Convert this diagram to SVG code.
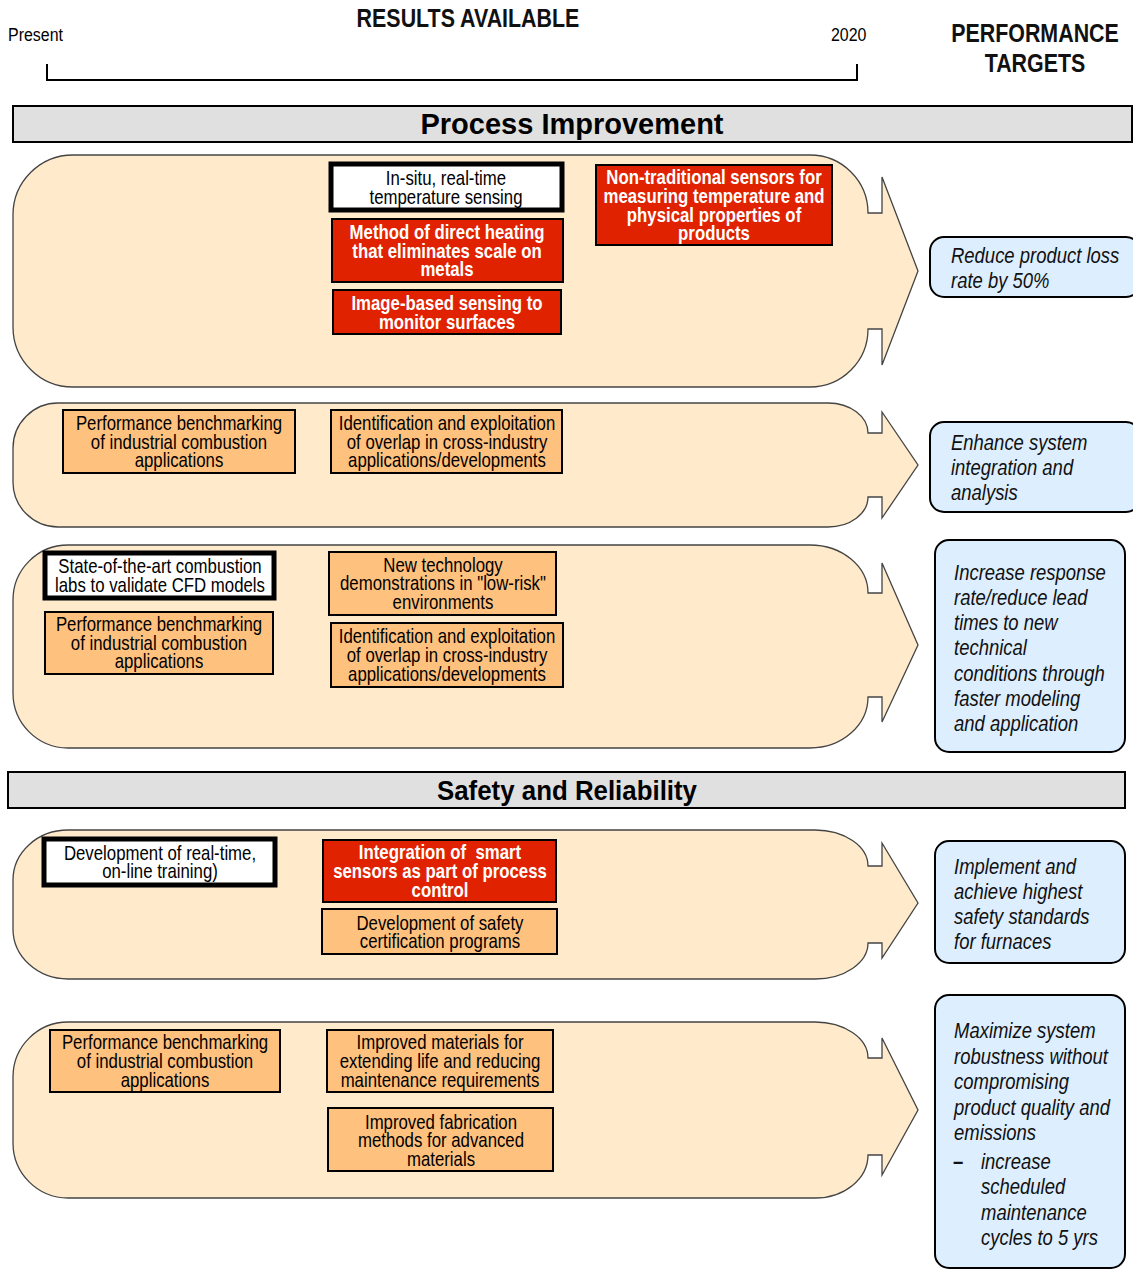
<svg xmlns="http://www.w3.org/2000/svg" width="1133" height="1270" viewBox="0 0 1133 1270">
<style>
.n{font-family:"Liberation Sans",Arial,sans-serif;font-size:20px;fill:#000;text-anchor:middle}
.nw{font-family:"Liberation Sans",Arial,sans-serif;font-size:20px;font-weight:bold;fill:#fff;text-anchor:middle}
.it{font-family:"Liberation Sans",Arial,sans-serif;font-size:22px;font-style:italic;fill:#111}
.hd{font-family:"Liberation Sans",Arial,sans-serif;font-size:25.5px;font-weight:bold;fill:#111;text-anchor:middle}
.sm{font-family:"Liberation Sans",Arial,sans-serif;font-size:19px;fill:#000}
.ttl{font-family:"Liberation Sans",Arial,sans-serif;font-size:29px;font-weight:bold;fill:#000;text-anchor:middle}
.lane{fill:#ffebcc;stroke:#444;stroke-width:1.3}
.bar{fill:#e0e0e0;stroke:#000;stroke-width:2}
.red{fill:#e12200;stroke:#000;stroke-width:2}
.org{fill:#ffc17e;stroke:#000;stroke-width:2}
.wht{fill:#fff;stroke:#000;stroke-width:5}
.blue{fill:#ddeeff;stroke:#000;stroke-width:2}
</style>

<g id="header">
  <text class="sm" transform="translate(8,41) scale(0.84,1)">Present</text>
  <text class="hd" transform="translate(468,27) scale(0.84,1)">RESULTS AVAILABLE</text>
  <text class="sm" transform="translate(831,41) scale(0.84,1)">2020</text>
  <text class="hd" transform="translate(1035,42) scale(0.84,1)">PERFORMANCE</text>
  <text class="hd" transform="translate(1035,72) scale(0.84,1)">TARGETS</text>
</g>

<g id="connectors">
  <path id="timeline" d="M47,64 V80 H857 V64" fill="none" stroke="#000" stroke-width="2"/>
</g>

<g id="bar-process">
  <rect class="bar" x="13" y="106" width="1119" height="36"/>
  <text class="ttl" x="572" y="134">Process Improvement</text>
</g>
<g id="bar-safety">
  <rect class="bar" x="8" y="772" width="1117" height="36"/>
  <text class="ttl" x="567" y="800" style="font-size:27px" textLength="260" lengthAdjust="spacingAndGlyphs">Safety and Reliability</text>
</g>

<g id="lanes">
  <path id="lane1" class="lane" d="M73,155 H810 A58,58 0 0 1 868,213 H882 V177 L918,271 L882,365 V329 H868 A58,58 0 0 1 810,387 H73 A60,60 0 0 1 13,327 V215 A60,60 0 0 1 73,155 Z"/>
  <path id="lane2" class="lane" d="M58,403 H828 A40,30 0 0 1 868,433 H882 V412 L918,465 L882,518 V497 H868 A40,30 0 0 1 828,527 H58 A45,45 0 0 1 13,482 V448 A45,45 0 0 1 58,403 Z"/>
  <path id="lane3" class="lane" d="M68,545 H810 A58,48 0 0 1 868,593 H882 V563 L918,645 L882,722 V697 H868 A58,51 0 0 1 810,748 H68 A55,55 0 0 1 13,693 V600 A55,55 0 0 1 68,545 Z"/>
  <path id="lane4" class="lane" d="M68,830 H815 A53,36 0 0 1 868,866 H882 V843 L918,903 L882,958 V943 H868 A53,36 0 0 1 815,979 H68 A55,50 0 0 1 13,929 V880 A55,50 0 0 1 68,830 Z"/>
  <path id="lane5" class="lane" d="M68,1022 H815 A53,36 0 0 1 868,1058 H882 V1038 L918,1110 L882,1175 V1155 H868 A53,43 0 0 1 815,1198 H68 A55,55 0 0 1 13,1143 V1077 A55,55 0 0 1 68,1022 Z"/>
</g>

<!-- Lane 1 -->
<g id="n-insitu">
  <rect class="wht" x="331" y="164" width="231" height="46"/>
  <text class="n" transform="translate(446,185) scale(0.84,1)">In-situ, real-time</text>
  <text class="n" transform="translate(446,204) scale(0.84,1)">temperature sensing</text>
</g>
<g id="n-direct-heating">
  <rect class="red" x="332" y="219" width="231" height="63"/>
  <text class="nw" transform="translate(447,239) scale(0.84,1)">Method of direct heating</text>
  <text class="nw" transform="translate(447,258) scale(0.84,1)">that eliminates scale on</text>
  <text class="nw" transform="translate(447,276) scale(0.84,1)">metals</text>
</g>
<g id="n-image-sensing">
  <rect class="red" x="333" y="290" width="228" height="44"/>
  <text class="nw" transform="translate(447,310) scale(0.84,1)">Image-based sensing to</text>
  <text class="nw" transform="translate(447,329) scale(0.84,1)">monitor surfaces</text>
</g>
<g id="n-nontraditional">
  <rect class="red" x="596" y="165" width="236" height="80"/>
  <text class="nw" transform="translate(714,184) scale(0.84,1)">Non-traditional sensors for</text>
  <text class="nw" transform="translate(714,203) scale(0.84,1)">measuring temperature and</text>
  <text class="nw" transform="translate(714,222) scale(0.84,1)">physical properties of</text>
  <text class="nw" transform="translate(714,240) scale(0.84,1)">products</text>
</g>

<!-- Lane 2 -->
<g id="n-bench-1">
  <rect class="org" x="63" y="410" width="232" height="63"/>
  <text class="n" transform="translate(179,430) scale(0.84,1)">Performance benchmarking</text>
  <text class="n" transform="translate(179,449) scale(0.84,1)">of industrial combustion</text>
  <text class="n" transform="translate(179,467) scale(0.84,1)">applications</text>
</g>
<g id="n-overlap-1">
  <rect class="org" x="331" y="410" width="231" height="63"/>
  <text class="n" transform="translate(447,430) scale(0.84,1)">Identification and exploitation</text>
  <text class="n" transform="translate(447,449) scale(0.84,1)">of overlap in cross-industry</text>
  <text class="n" transform="translate(447,467) scale(0.84,1)">applications/developments</text>
</g>

<!-- Lane 3 -->
<g id="n-labs">
  <rect class="wht" x="45" y="553" width="229" height="45"/>
  <text class="n" transform="translate(160,573) scale(0.84,1)">State-of-the-art combustion</text>
  <text class="n" transform="translate(160,592) scale(0.84,1)">labs to validate CFD models</text>
</g>
<g id="n-bench-2">
  <rect class="org" x="45" y="612" width="228" height="62"/>
  <text class="n" transform="translate(159,631) scale(0.84,1)">Performance benchmarking</text>
  <text class="n" transform="translate(159,650) scale(0.84,1)">of industrial combustion</text>
  <text class="n" transform="translate(159,668) scale(0.84,1)">applications</text>
</g>
<g id="n-newtech">
  <rect class="org" x="329" y="552" width="227" height="63"/>
  <text class="n" transform="translate(443,572) scale(0.84,1)">New technology</text>
  <text class="n" transform="translate(443,590) scale(0.84,1)">demonstrations in "low-risk"</text>
  <text class="n" transform="translate(443,609) scale(0.84,1)">environments</text>
</g>
<g id="n-overlap-2">
  <rect class="org" x="331" y="623" width="232" height="64"/>
  <text class="n" transform="translate(447,643) scale(0.84,1)">Identification and exploitation</text>
  <text class="n" transform="translate(447,662) scale(0.84,1)">of overlap in cross-industry</text>
  <text class="n" transform="translate(447,681) scale(0.84,1)">applications/developments</text>
</g>

<!-- Lane 4 -->
<g id="n-training">
  <rect class="wht" x="44" y="839" width="231" height="46"/>
  <text class="n" transform="translate(160,860) scale(0.84,1)">Development of real-time,</text>
  <text class="n" transform="translate(160,878) scale(0.84,1)">on-line training)</text>
</g>
<g id="n-smart-sensors">
  <rect class="red" x="323" y="840" width="233" height="62"/>
  <text class="nw" transform="translate(440,859) scale(0.84,1)" xml:space="preserve">Integration of  smart</text>
  <text class="nw" transform="translate(440,878) scale(0.84,1)">sensors as part of process</text>
  <text class="nw" transform="translate(440,897) scale(0.84,1)">control</text>
</g>
<g id="n-safety-cert">
  <rect class="org" x="322" y="909" width="235" height="45"/>
  <text class="n" transform="translate(440,930) scale(0.84,1)">Development of safety</text>
  <text class="n" transform="translate(440,948) scale(0.84,1)">certification programs</text>
</g>

<!-- Lane 5 -->
<g id="n-bench-3">
  <rect class="org" x="50" y="1030" width="230" height="62"/>
  <text class="n" transform="translate(165,1049) scale(0.84,1)">Performance benchmarking</text>
  <text class="n" transform="translate(165,1068) scale(0.84,1)">of industrial combustion</text>
  <text class="n" transform="translate(165,1087) scale(0.84,1)">applications</text>
</g>
<g id="n-materials">
  <rect class="org" x="327" y="1030" width="226" height="62"/>
  <text class="n" transform="translate(440,1049) scale(0.84,1)">Improved materials for</text>
  <text class="n" transform="translate(440,1068) scale(0.84,1)">extending life and reducing</text>
  <text class="n" transform="translate(440,1087) scale(0.84,1)">maintenance requirements</text>
</g>
<g id="n-fabrication">
  <rect class="org" x="328" y="1108" width="225" height="63"/>
  <text class="n" transform="translate(441,1129) scale(0.84,1)">Improved fabrication</text>
  <text class="n" transform="translate(441,1147) scale(0.84,1)">methods for advanced</text>
  <text class="n" transform="translate(441,1166) scale(0.84,1)">materials</text>
</g>

<!-- Targets -->
<g id="t-product-loss">
  <rect class="blue" x="930" y="237" width="210" height="60" rx="14"/>
  <text class="it" transform="translate(951,263) scale(0.84,1)">Reduce product loss</text>
  <text class="it" transform="translate(951,288) scale(0.84,1)">rate by 50%</text>
</g>
<g id="t-integration">
  <rect class="blue" x="930" y="422" width="210" height="90" rx="14"/>
  <text class="it" transform="translate(951,450) scale(0.84,1)">Enhance system</text>
  <text class="it" transform="translate(951,475) scale(0.84,1)">integration and</text>
  <text class="it" transform="translate(951,500) scale(0.84,1)">analysis</text>
</g>
<g id="t-response">
  <rect class="blue" x="935" y="540" width="190" height="212" rx="14"/>
  <text class="it" transform="translate(954,580) scale(0.84,1)">Increase response</text>
  <text class="it" transform="translate(954,605) scale(0.84,1)">rate/reduce lead</text>
  <text class="it" transform="translate(954,630) scale(0.84,1)">times to new</text>
  <text class="it" transform="translate(954,655) scale(0.84,1)">technical</text>
  <text class="it" transform="translate(954,681) scale(0.84,1)">conditions through</text>
  <text class="it" transform="translate(954,706) scale(0.84,1)">faster modeling</text>
  <text class="it" transform="translate(954,731) scale(0.84,1)">and application</text>
</g>
<g id="t-safety">
  <rect class="blue" x="935" y="841" width="190" height="122" rx="14"/>
  <text class="it" transform="translate(954,874) scale(0.84,1)">Implement and</text>
  <text class="it" transform="translate(954,899) scale(0.84,1)">achieve highest</text>
  <text class="it" transform="translate(954,924) scale(0.84,1)">safety standards</text>
  <text class="it" transform="translate(954,949) scale(0.84,1)">for furnaces</text>
</g>
<g id="t-robustness">
  <rect class="blue" x="935" y="995" width="190" height="273" rx="14"/>
  <text class="it" transform="translate(954,1038) scale(0.84,1)">Maximize system</text>
  <text class="it" transform="translate(954,1064) scale(0.84,1)">robustness without</text>
  <text class="it" transform="translate(954,1089) scale(0.84,1)">compromising</text>
  <text class="it" transform="translate(954,1115) scale(0.84,1)">product quality and</text>
  <text class="it" transform="translate(954,1140) scale(0.84,1)">emissions</text>
  <text class="it" transform="translate(953,1169) scale(0.84,1)" style="font-style:normal;font-weight:bold">–</text>
  <text class="it" transform="translate(981,1169) scale(0.84,1)">increase</text>
  <text class="it" transform="translate(981,1194) scale(0.84,1)">scheduled</text>
  <text class="it" transform="translate(981,1220) scale(0.84,1)">maintenance</text>
  <text class="it" transform="translate(981,1245) scale(0.84,1)">cycles to 5 yrs</text>
</g>
</svg>
